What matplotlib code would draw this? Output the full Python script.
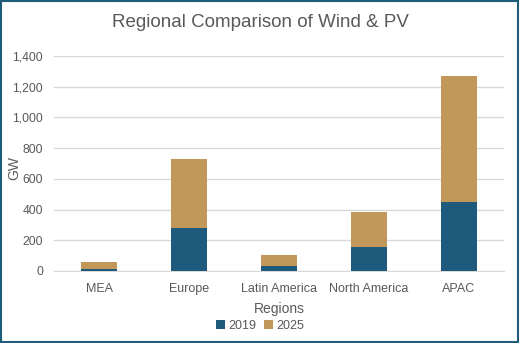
import matplotlib
matplotlib.use('Agg')
import matplotlib.pyplot as plt
from matplotlib.patches import Rectangle
from matplotlib.ticker import FuncFormatter

regions = ['MEA', 'Europe', 'Latin America', 'North America', 'APAC']
gw_2019 = [14, 280, 33, 157, 450]
gw_2025 = [45, 452, 71, 228, 822]

BLUE = '#1D5A7C'
TAN = '#C1975A'
GREY = '#595959'

plt.rcParams['font.family'] = ['Liberation Sans', 'DejaVu Sans']

fig = plt.figure(figsize=(5.2, 3.43), dpi=100)
ax = fig.add_axes([0.104, 0.21, 0.865, 0.627])

x = range(len(regions))
ax.bar(x, gw_2019, width=0.4, color=BLUE, label='2019', zorder=3)
ax.bar(x, gw_2025, width=0.4, bottom=gw_2019, color=TAN, label='2025', zorder=3)

ax.set_xlim(-0.5, len(regions) - 0.5)
ax.set_ylim(0, 1400)
ax.set_yticks(range(0, 1401, 200))
ax.yaxis.set_major_formatter(FuncFormatter(lambda v, p: '{:,.0f}'.format(v)))
ax.set_xticks(list(x))
ax.set_xticklabels(regions)
ax.tick_params(axis='y', length=0, labelsize=8.7, colors=GREY, pad=8)
ax.tick_params(axis='x', length=0, labelsize=9, colors=GREY, pad=9)
ax.grid(axis='y', color='#D9D9D9', linewidth=1, zorder=0)
for s in ['top', 'right', 'left']:
    ax.spines[s].set_visible(False)
ax.spines['bottom'].set_color('#D9D9D9')
ax.set_ylabel('GW', fontsize=10, color=GREY)
ax.yaxis.set_label_coords(-0.072, 0.48)
ax.set_xlabel('Regions', fontsize=10, color=GREY, labelpad=5)

fig.suptitle('Regional Comparison of Wind & PV', x=0.5, y=0.958, fontsize=13.5, color=GREY)

fig.legend(loc='lower center', bbox_to_anchor=(0.5, 0.0), ncol=2, frameon=False,
           fontsize=9, labelcolor=GREY, handlelength=0.7, handleheight=0.7,
           handletextpad=0.3, columnspacing=0.6)

# outer frame
fig.patches.append(Rectangle((0.002, 0.003), 0.995, 0.993, transform=fig.transFigure,
                             fill=False, edgecolor='#1F5C7A', linewidth=1.5))

fig.savefig('out.png', dpi=100)
